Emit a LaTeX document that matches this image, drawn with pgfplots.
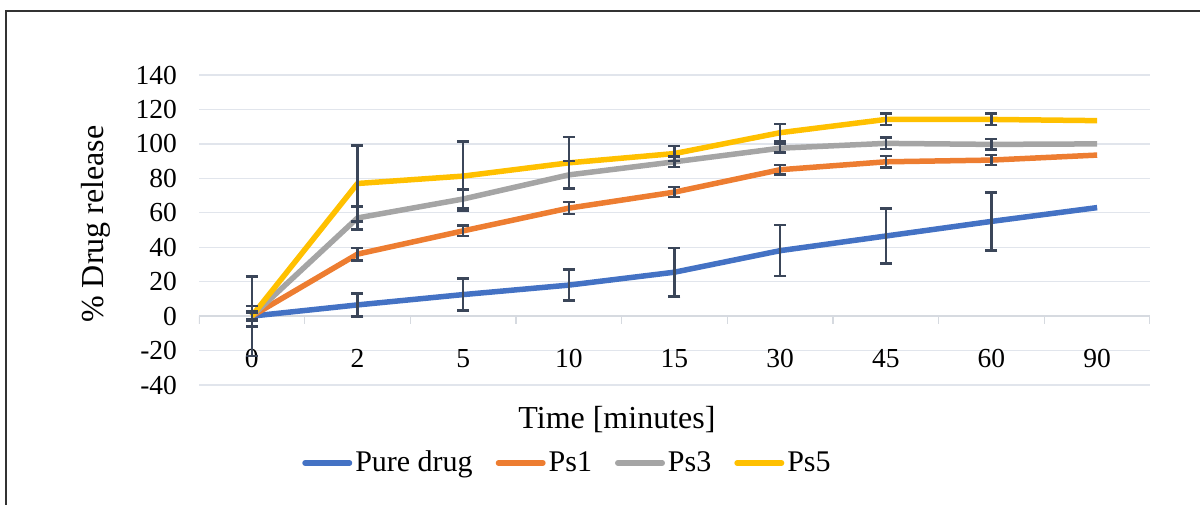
\documentclass[border=0pt]{standalone}
\usepackage{pgfplots}
\pgfplotsset{compat=1.18}
\usepackage{pgfplotstable}
\usepackage{fontspec}
\setmainfont{Liberation Serif}
\definecolor{cblue}{HTML}{4472C4}
\definecolor{corange}{HTML}{ED7D31}
\definecolor{cgray}{HTML}{A5A5A5}
\definecolor{cgold}{HTML}{FFC000}
\definecolor{errc}{HTML}{3B4659}
\definecolor{gridc}{HTML}{E1E5EC}
\definecolor{axisc}{HTML}{D6DAE0}
\pgfplotstableread{
x y e
0 0 23
1 6.5 6.7
2 12.5 9.3
3 18 9
4 25.5 14
5 38 14.8
6 46.5 16
7 55 16.8
8 63 0
}\pure
\pgfplotstableread{
x y e
0 0 6
1 36 3.7
2 49.5 3
3 62.7 3.5
4 72 3
5 85 2.7
6 89.6 3.2
7 90.6 3
8 93.5 0
}\psone
\pgfplotstableread{
x y e
0 0 3
1 57 6.6
2 68 5.6
3 82 8
4 89.6 3.1
5 97.5 2.6
6 100.3 3.4
7 99.7 3
8 100 0
}\psthree
\pgfplotstableread{
x y e
0 0 2
1 77 22
2 81.3 20
3 89 15
4 94.4 4.3
5 106.5 5
6 114.2 3.4
7 114.2 3.4
8 113.5 0
}\psfive
\begin{document}
\begin{tikzpicture}
\useasboundingbox (0,0) rectangle (600pt,252pt);
\draw[line width=1.2pt, color=black!80] (3pt,-5pt) -- (3pt,246.5pt) -- (605pt,246.5pt);
\begin{axis}[
  at={(99.5pt,59.5pt)}, anchor=south west,
  scale only axis, width=475.5pt, height=155pt,
  xmin=-0.5, xmax=8.5, ymin=-40, ymax=140,
  xtick={0,...,8}, xticklabels={0,2,5,10,15,30,45,60,90},
  ytick={-40,-20,...,140},
  ymajorgrids, grid style={gridc, line width=0.7pt},
  axis line style={draw=none},
  major tick length=0pt,
  tick label style={font=\fontsize{13.75}{16}\selectfont},
  /pgf/number format/assume math mode=true,
  yticklabel style={xshift=-7.5pt},
  xticklabel style={anchor=base, yshift=8.75pt},
  xlabel={Time [minutes]},
  ylabel={\% Drug release},
  label style={font=\fontsize{16}{18}\selectfont},
  xlabel style={at={(axis description cs:0.4395,-0.1129)}, anchor=center},
  ylabel style={at={(axis description cs:-0.108,0.519)}, anchor=center},
  legend columns=4,
  legend style={at={(axis description cs:0.388,-0.2516)}, anchor=center, draw=none, fill=none,
    font=\fontsize{15}{17}\selectfont, inner sep=0pt,
    nodes={inner sep=1.5pt},
    /tikz/every even column/.append style={column sep=10pt}},
  legend image code/.code={\draw[#1, line width=2.75pt, line cap=round] (1.375pt,0pt) -- (23.6pt,0pt);},
  every axis plot/.append style={line join=round},
]
\draw[axisc, line width=0.8pt] (axis cs:-0.5,0) -- (axis cs:8.5,0);
\pgfplotsinvokeforeach{-0.5,0.5,1.5,2.5,3.5,4.5,5.5,6.5,7.5,8.5}{
  \draw[axisc, line width=0.8pt] (axis cs:#1,0) -- ++(0pt,-4pt);
}
\addplot[cblue, line width=2.75pt, mark=none] table[x=x,y=y] {\pure};
\addlegendentry{Pure drug}
\addplot[corange, line width=2.75pt, mark=none] table[x=x,y=y] {\psone};
\addlegendentry{Ps1}
\addplot[cgray, line width=2.75pt, mark=none] table[x=x,y=y] {\psthree};
\addlegendentry{Ps3}
\addplot[cgold, line width=2.75pt, mark=none] table[x=x,y=y] {\psfive};
\addlegendentry{Ps5}
\pgfplotsset{errset/.style={draw=none, mark=none, forget plot,
  skip coords between index={8}{9},
  error bars/.cd, y dir=both, y explicit,
  error bar style={errc, line width=1.2pt},
  error mark options={errc, rotate=90, mark size=3pt, line width=1.2pt}}}
\addplot[errset] table[x=x,y=y,y error=e] {\pure};
\addplot[errset] table[x=x,y=y,y error=e] {\psone};
\addplot[errset] table[x=x,y=y,y error=e] {\psthree};
\addplot[errset] table[x=x,y=y,y error=e] {\psfive};
\end{axis}
\end{tikzpicture}
\end{document}
